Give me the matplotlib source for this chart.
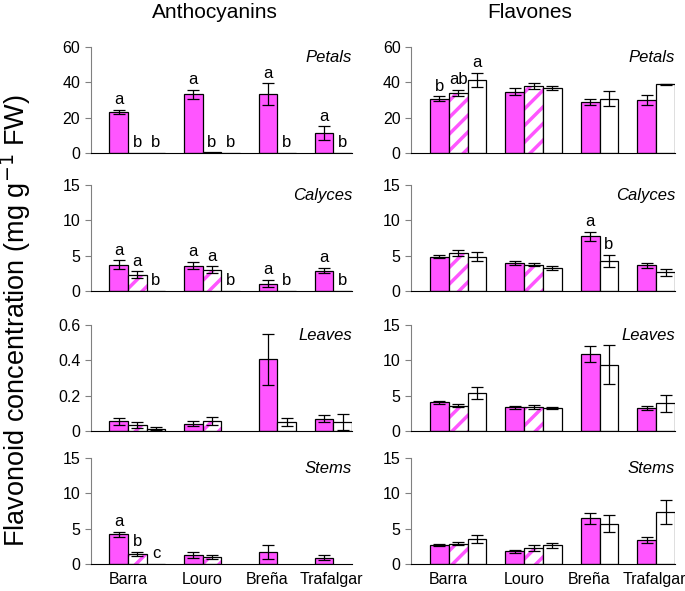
import matplotlib
matplotlib.use("Agg")
import matplotlib.pyplot as plt
import numpy as np

plt.rcParams['font.family'] = ['Liberation Sans', 'DejaVu Sans']
plt.rcParams['hatch.linewidth'] = 2.5

# sites and bar slots (solid, hatched, white)
sites = ["Barra", "Louro", "Breña", "Trafalgar"]
group_start = [1, 5, 9, 12]
label_pos = [2.0, 6.0, 9.45, 12.9]
organs = ["Petals", "Calyces", "Leaves", "Stems"]

# values: per site list of [solid, hatched, white]; None = bar absent
antho_mean = {
    "Petals":  [[23.2, 0, 0], [33.2, 0.3, 0], [33.4, None, 0], [11.3, None, 0]],
    "Calyces": [[3.74, 2.32, 0], [3.6, 2.99, 0], [1.04, None, 0], [2.9, None, 0]],
    "Leaves":  [[0.056, 0.035, 0.012], [0.041, 0.055, None], [0.405, None, 0.05], [0.07, None, 0.05]],
    "Stems":   [[4.2, 1.42, 0], [1.23, 0.99, None], [1.7, None, None], [0.9, None, None]],
}
antho_err = {
    "Petals":  [[1.4, 0, 0], [2.6, 0, 0], [6.0, None, 0], [3.8, None, 0]],
    "Calyces": [[0.6, 0.45, 0], [0.55, 0.5, 0], [0.5, None, 0], [0.4, None, 0]],
    "Leaves":  [[0.02, 0.018, 0.008], [0.014, 0.023, None], [0.143, None, 0.022], [0.021, None, 0.045]],
    "Stems":   [[0.33, 0.33, 0], [0.4, 0.28, None], [1.0, None, None], [0.37, None, None]],
}
flav_mean = {
    "Petals":  [[30.7, 33.9, 41.3], [34.6, 38.0, 36.9], [28.9, None, 30.7], [30.0, None, 38.9]],
    "Calyces": [[4.83, 5.39, 4.83], [3.94, 3.75, 3.28], [7.73, None, 4.31], [3.66, None, 2.63]],
    "Leaves":  [[4.06, 3.58, 5.42], [3.35, 3.4, 3.25], [10.94, None, 9.39], [3.25, None, 3.9]],
    "Stems":   [[2.7, 2.9, 3.56], [1.8, 2.28, 2.66], [6.45, None, 5.7], [3.42, None, 7.36]],
}
flav_err = {
    "Petals":  [[1.3, 1.9, 4.0], [2.0, 1.5, 1.0], [1.9, None, 4.3], [2.8, None, 0.2]],
    "Calyces": [[0.2, 0.4, 0.65], [0.25, 0.15, 0.25], [0.6, None, 0.85], [0.37, None, 0.45]],
    "Leaves":  [[0.24, 0.24, 0.85], [0.24, 0.28, 0.2], [1.13, None, 2.8], [0.33, None, 1.2]],
    "Stems":   [[0.2, 0.23, 0.52], [0.2, 0.47, 0.38], [0.8, None, 1.23], [0.42, None, 1.7]],
}
antho_letters = {
    "Petals":  [["a", "b", "b"], ["a", "b", "b"], ["a", None, "b"], ["a", None, "b"]],
    "Calyces": [["a", "a", "b"], ["a", "a", "b"], ["a", None, "b"], ["a", None, "b"]],
    "Leaves":  None,
    "Stems":   [["a", "b", "c"], None, None, None],
}
flav_letters = {
    "Petals":  [["b", "ab", "a"], None, None, None],
    "Calyces": [None, None, ["a", None, "b"], None],
    "Leaves":  None,
    "Stems":   None,
}
antho_ylim = {"Petals": (60, [0, 20, 40, 60]), "Calyces": (15, [0, 5, 10, 15]),
              "Leaves": (0.6, [0, 0.2, 0.4, 0.6]), "Stems": (15, [0, 5, 10, 15])}
flav_ylim = {"Petals": (60, [0, 20, 40, 60]), "Calyces": (15, [0, 5, 10, 15]),
             "Leaves": (15, [0, 5, 10, 15]), "Stems": (15, [0, 5, 10, 15])}

MAG = "#ff55ff"
GRAY = "#808080"


def draw_panel(ax, means, errs, letters, ylim, organ, bottom_row):
    ymax, yt = ylim
    for i, start in enumerate(group_start):
        slot = 0
        for k in range(3):
            m = means[i][k]
            if m is None:
                continue
            x = start + slot + 0.5
            slot += 1
            if k == 0:
                ax.bar(x, m, width=1, color=MAG, edgecolor="black", linewidth=0.9)
            elif k == 1:
                ax.bar(x, m, width=1, color="white", edgecolor=MAG, hatch="//", linewidth=0)
                ax.bar(x, m, width=1, fill=False, edgecolor="black", linewidth=0.9)
            else:
                ax.bar(x, m, width=1, color="white", edgecolor="black", linewidth=0.9)
            e = errs[i][k]
            if e and e > 0:
                ax.errorbar(x, m, yerr=e, fmt="none", ecolor="black", elinewidth=0.9,
                            capsize=4, capthick=0.9)
            if letters is not None and letters[i] is not None and letters[i][k]:
                top = m + (e or 0)
                ax.text(x, top + ymax * 0.025, letters[i][k], ha="center", va="bottom",
                        fontsize=12)
    ax.set_xlim(0, 14)
    ax.set_ylim(0, ymax)
    ax.set_yticks(yt)
    ax.set_yticklabels([("%g" % v) for v in yt])
    for s in ["top", "right"]:
        ax.spines[s].set_visible(False)
    ax.spines["left"].set_color(GRAY)
    ax.spines["bottom"].set_color("black")
    ax.tick_params(axis="y", colors=GRAY, labelcolor="black", labelsize=11.5, length=4)
    ax.tick_params(axis="x", length=0, labelsize=11.5, pad=6)
    if bottom_row:
        ax.set_xticks(label_pos)
        ax.set_xticklabels(sites)
    else:
        ax.set_xticks([])
    ax.text(1.0, 0.97, organ, transform=ax.transAxes, ha="right", va="top",
            fontsize=12, style="italic")


fig = plt.figure(figsize=(6.85, 5.91), dpi=100)
W, H = 685.0, 591.0
rows_top = [47, 185, 325, 458]
row_h = 106
col_left = [90.7, 411]
col_w = [261.3, 264]

for r, organ in enumerate(organs):
    for c in range(2):
        ax = fig.add_axes([col_left[c] / W, 1 - (rows_top[r] + row_h) / H, col_w[c] / W, row_h / H])
        if c == 0:
            draw_panel(ax, antho_mean[organ], antho_err[organ], antho_letters[organ],
                       antho_ylim[organ], organ, r == 3)
        else:
            draw_panel(ax, flav_mean[organ], flav_err[organ], flav_letters[organ],
                       flav_ylim[organ], organ, r == 3)

fig.text(215 / W, 1 - 13 / H, "Anthocyanins", ha="center", va="center", fontsize=15)
fig.text(530 / W, 1 - 13 / H, "Flavones", ha="center", va="center", fontsize=15)
fig.text(16 / W, 1 - 321 / H, "Flavonoid concentration (mg g$^{-1}$ FW)", rotation=90,
         ha="center", va="center", fontsize=19.5)

fig.savefig("out.png", dpi=100)
